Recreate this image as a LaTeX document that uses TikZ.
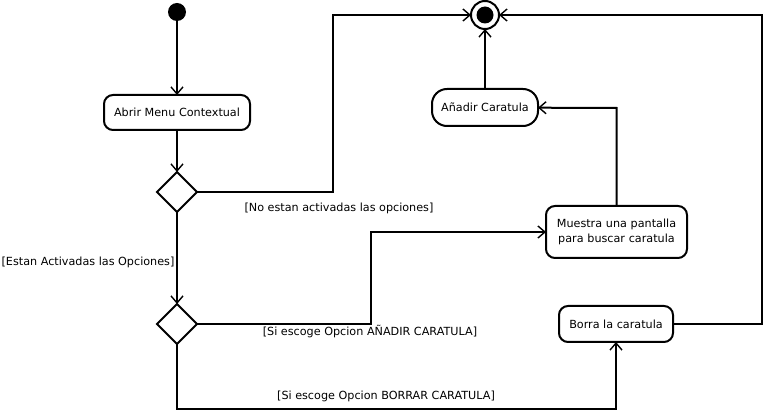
\documentclass[tikz,border=0pt]{standalone}
\usepackage{fontspec}
\setmainfont{DejaVu Sans}
\usetikzlibrary{arrows.meta,shapes.geometric}
\begin{document}
\begin{tikzpicture}[x=1pt,y=-1pt,
  every node/.style={font=\fontsize{11.2}{15}\selectfont, inner sep=0pt, outer sep=0pt},
  act/.style={draw, line width=2pt, rounded corners=9pt, align=center},
  dec/.style={draw, line width=2pt, diamond, minimum width=40pt, minimum height=40pt, aspect=1},
  flow/.style={line width=2pt, -{Straight Barb[length=7pt,width=12pt,line width=1.4pt]}},
  lab/.style={font=\fontsize{11.2}{15}\selectfont}]
\useasboundingbox (0,0) rectangle (764,414);
\node[circle, fill=black, minimum size=18pt] (start) at (177,12) {};
\node[act, minimum width=146pt, minimum height=35pt] (abrir) at (177,112.5) {Abrir Menu Contextual};
\node[dec] (d1) at (177,192) {};
\node[dec] (d2) at (177,324) {};
\node[circle, draw, line width=2pt, minimum size=28pt] (final) at (485,15) {};
\node[circle, fill=black, minimum size=17pt] at (485,15) {};
\node[act, rounded corners=15pt, minimum width=106pt, minimum height=37pt] (anadir) at (485,107.5) {Añadir Caratula};
\node[act, minimum width=141pt, minimum height=52pt, text width=141pt] (muestra) at (616.5,232) {Muestra una pantalla\\para buscar caratula};
\node[act, minimum width=114pt, minimum height=36pt] (borra) at (616,324) {Borra la caratula};
\coordinate (c1) at (333,192);
\coordinate (c2) at (333,15);
\coordinate (c3) at (371,324);
\coordinate (c4) at (371,232);
\coordinate (c5) at (616.5,108);
\coordinate (c6) at (177,409);
\coordinate (c7) at (616,409);
\coordinate (c8) at (762,324);
\coordinate (c9) at (762,15);
\draw[flow] (start) -- (abrir);
\draw[flow] (abrir) -- (d1);
\draw[flow] (d1) -- (d2);
\draw[flow] (d1.east) -- (c1) -- (c2) -- (final);
\draw[flow] (d2.east) -- (c3) -- (c4) -- (muestra);
\draw[flow] (muestra.north) -- (c5) -- (anadir);
\draw[flow] (anadir) -- (final);
\draw[flow] (d2.south) -- (c6) -- (c7) -- (borra);
\draw[flow] (borra.east) -- (c8) -- (c9) -- (final);
\node[lab] (l1) at (339,208) {[No estan activadas las opciones]};
\node[lab] (l2) at (88,262) {[Estan Activadas las Opciones]};
\node[lab] (l3) at (370,332) {[Si escoge Opcion AÑADIR CARATULA]};
\node[lab] (l4) at (386,396) {[Si escoge Opcion BORRAR CARATULA]};
\end{tikzpicture}
\end{document}
